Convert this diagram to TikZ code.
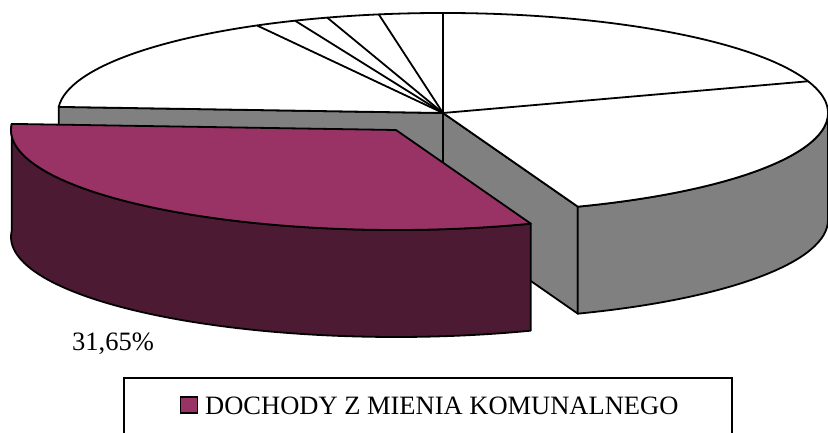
\documentclass[tikz,border=0pt]{standalone}
\usepackage{fontspec}
\setmainfont{Liberation Serif}
\definecolor{prune}{HTML}{993366}
\definecolor{pruneombre}{HTML}{4C1A33}
\definecolor{gris}{HTML}{808080}
\tikzset{
  bord/.style={draw=black, line width=1.8pt, line join=round},
  texte/.style={font=\fontsize{26.5}{30}\selectfont, inner sep=0pt}
}
\begin{document}
\begin{tikzpicture}[x=1pt,y=1pt]
  \clip (0,0) rectangle (828,432);
  \coordinate (c) at (443,319);
  \coordinate (cb) at (443,212);
  \coordinate (m) at (396,302);
  % faces grises du gros morceau
  \draw[bord, fill=gris] (c) -- ++(176.5:385 and 100) -- ++(0,-107) -- (cb) -- cycle;
  \draw[bord, fill=gris] (c) -- ++(-69.5:385 and 100) -- ++(0,-107) -- (cb) -- cycle;
  \draw[bord, fill=gris] (c) ++(-69.5:385 and 100)
    arc[start angle=-69.5, end angle=0, x radius=385, y radius=100] -- ++(0,-107)
    arc[start angle=0, end angle=-69.5, x radius=385, y radius=100] -- cycle;
  % dessus blanc
  \draw[bord, fill=white] (c) -- ++(-69.5:385 and 100)
    arc[start angle=-69.5, end angle=176.5, x radius=385, y radius=100] -- cycle;
  \foreach \a in {18.5,90,99.6,107.5,112.6,118.9}
    \draw[bord] (c) -- ++(\a:385 and 100);
  % morceau sorti
  \draw[bord, fill=pruneombre] (m) ++(176.5:385 and 100)
    arc[start angle=176.5, end angle=290.5, x radius=385, y radius=100] -- ++(0,-107)
    arc[start angle=290.5, end angle=176.5, x radius=385, y radius=100] -- cycle;
  \draw[bord, fill=prune] (m) -- ++(176.5:385 and 100)
    arc[start angle=176.5, end angle=290.5, x radius=385, y radius=100] -- cycle;
  \node[texte, anchor=base west] (pourcent) at (72,82) {31,65\%};
  % legende
  \node[draw, line width=1.8pt, minimum width=608pt, minimum height=69pt, inner sep=0pt] (legende) at (428,19.5) {};
  \node[draw, fill=prune, line width=1.5pt, minimum width=17pt, minimum height=16pt, inner sep=0pt] (carre) at (189,27) {};
  \node[texte, anchor=base west] (etiquette) at (205,18) {DOCHODY Z MIENIA KOMUNALNEGO};
\end{tikzpicture}
\end{document}
